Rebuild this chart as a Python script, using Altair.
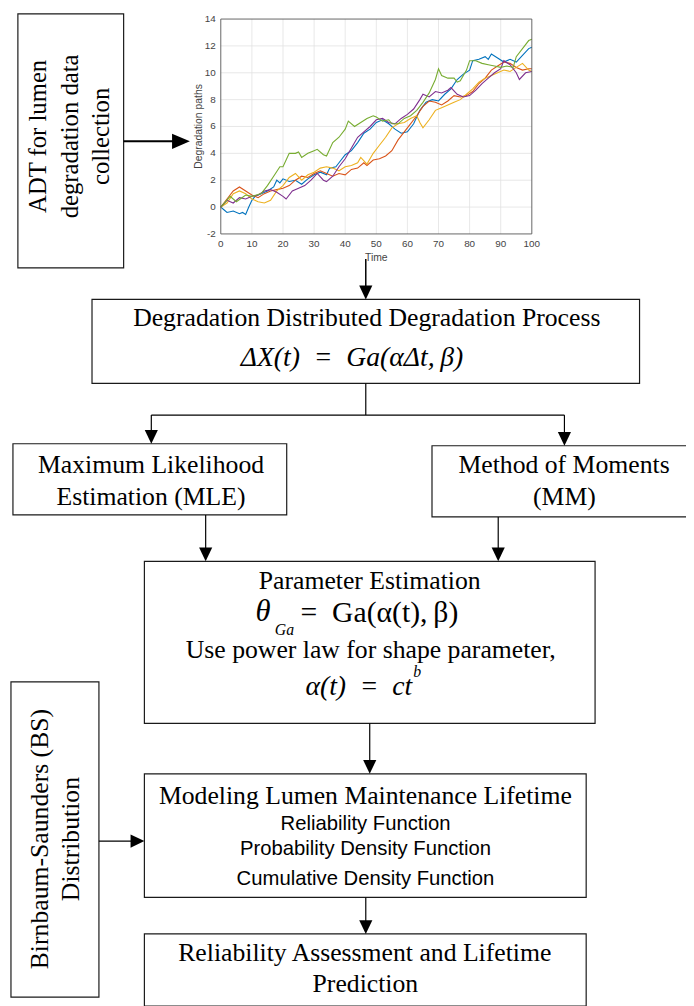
import altair as alt
import pandas as pd

# ---------------- embedded "Degradation paths" chart: data ----------------
series_names = ["path 1", "path 2", "path 3", "path 4", "path 5"]
series_colors = ["#0072BD", "#D95319", "#EDB120", "#7E2F8E", "#77AC30"]

blue_t = [0, 1, 2, 4, 6, 7, 8, 9, 10, 11, 13, 15, 17, 18, 19, 20, 22, 24, 26, 28, 30, 32, 34, 35, 37, 38, 40, 42, 44, 46,
          48, 50, 52, 54, 56, 58, 60, 62, 64, 66, 68, 70, 72, 74, 76, 78, 80, 81, 83, 85, 86, 87, 89, 91, 93, 95, 97, 99, 100]
blue_v = [0, -0.2, -0.4, -0.3, -0.5, -0.4, -0.55, 0, 0.5, 0.8, 1.0, 1.2, 1.5, 2.0, 1.8, 2.1, 1.9, 2.0, 1.7, 2.1, 2.4, 2.6,
          2.4, 2.9, 3.0, 3.3, 3.9, 4.2, 4.8, 5.5, 5.8, 6.3, 6.5, 6.2, 5.8, 5.5, 5.6, 6.2, 7.2, 7.8, 8.0, 7.9, 8.4, 8.8, 9.5,
          9.9, 10.2, 10.9, 11.0, 11.2, 11.0, 11.4, 11.1, 10.8, 11.0, 10.8, 11.3, 11.8, 11.9]

orange_t = [0, 2, 4, 6, 8, 10, 12, 14, 16, 18, 20, 22, 24, 26, 28, 30, 32, 34, 36, 38, 40, 42, 44, 46, 47, 49, 51, 53, 55,
            57, 59, 61, 63, 65, 67, 69, 71, 73, 75, 77, 79, 81, 83, 85, 87, 89, 91, 93, 95, 97, 99, 100]
orange_v = [0, 0.6, 1.2, 1.5, 1.2, 0.9, 0.7, 1.0, 1.2, 1.3, 1.4, 1.6, 2.0, 2.3, 2.2, 2.5, 2.7, 2.5, 2.3, 2.5, 2.4, 2.8, 2.9,
            3.3, 3.1, 3.5, 3.6, 3.8, 4.2, 5.0, 5.6, 6.2, 6.8, 7.5, 7.9, 7.8, 7.6, 7.9, 8.3, 8.2, 8.3, 8.6, 9.2, 9.6, 10.2,
            10.5, 10.8, 10.7, 10.4, 10.2, 10.3, 10.3]

yellow_t = [0, 2, 4, 6, 8, 10, 12, 14, 16, 18, 20, 22, 24, 26, 28, 30, 32, 34, 36, 38, 40, 42, 44, 45, 47, 49, 51, 53, 55,
            57, 59, 61, 63, 64, 65, 67, 69, 71, 73, 75, 77, 79, 81, 83, 85, 87, 89, 91, 93, 95, 97, 99, 100]
yellow_v = [0, 0.3, 1.0, 1.2, 1.0, 0.6, 0.4, 0.3, 0.5, 1.2, 1.6, 2.2, 2.5, 2.0, 2.4, 2.6, 2.9, 3.0, 2.9, 2.7, 3.0, 3.1, 3.3,
            3.7, 3.2, 4.0, 4.6, 5.2, 5.9, 6.2, 6.3, 6.6, 6.8, 6.3, 5.9, 6.5, 7.2, 7.4, 7.6, 7.8, 8.0, 8.4, 8.8, 9.3, 9.6,
            9.8, 10.0, 10.2, 10.1, 10.4, 10.7, 10.2, 10.1]

purple_t = [0, 2, 4, 6, 8, 10, 12, 14, 16, 18, 20, 21, 23, 25, 27, 29, 31, 33, 34, 36, 38, 40, 42, 44, 46, 48, 50, 52, 54,
            56, 58, 60, 62, 64, 65, 67, 69, 71, 73, 74, 76, 78, 80, 82, 84, 86, 88, 90, 91, 93, 95, 96, 98, 100]
purple_v = [0, 0.5, 0.3, 0.7, 0.6, 0.8, 0.9, 1.2, 1.3, 1.1, 0.8, 0.6, 1.2, 1.4, 1.6, 2.0, 2.5, 2.0, 1.9, 2.3, 3.0, 3.6, 4.4,
            5.2, 5.6, 6.0, 6.5, 6.6, 6.3, 6.2, 6.6, 6.9, 7.3, 8.0, 8.4, 8.2, 8.6, 8.5, 8.7, 8.9, 8.4, 8.2, 8.3, 8.7, 9.2,
            9.6, 10.0, 10.3, 10.9, 10.6, 10.0, 9.5, 10.0, 10.1]

green_t = [0, 3, 5, 8, 10, 13, 15, 17, 19, 20, 21, 22, 24, 25, 26, 28, 30, 31, 33, 34, 36, 38, 40, 41, 43, 45, 47, 49, 50,
           52, 54, 55, 57, 59, 61, 63, 65, 67, 69, 70, 71, 73, 75, 76, 77, 79, 80, 82, 84, 86, 88, 90, 92, 94, 95, 97, 99, 100]
green_v = [0, 0.8, 0.4, 0.9, 0.8, 1.0, 1.6, 2.3, 3.0, 3.0, 3.5, 4.0, 4.0, 4.1, 3.7, 4.0, 4.2, 4.3, 3.9, 3.8, 4.8, 5.2, 5.8,
           6.4, 6.0, 6.3, 6.6, 6.8, 6.7, 6.4, 6.5, 6.2, 6.2, 6.6, 6.8, 7.2, 7.8, 8.5, 9.5, 10.3, 9.8, 9.6, 9.6, 9.3, 9.4,
           10.2, 10.9, 10.9, 10.7, 10.6, 10.5, 10.4, 10.5, 10.4, 11.2, 11.8, 12.4, 12.5]

x_tick_values = [0, 10, 20, 30, 40, 50, 60, 70, 80, 90, 100]
x_tick_labels = ["0", "10", "20", "30", "40", "50", "60", "70", "80", "90", "100"]
y_tick_values = [-2, 0, 2, 4, 6, 8, 10, 12, 14]
y_tick_labels = ["-2", "0", "2", "4", "6", "8", "10", "12", "14"]
x_title = "Time"
y_title = "Degradation paths"

# ---------------- flowchart texts ----------------
heading_texts = ["ADT for lumen", "degradation data", "collection",
                 "Degradation Distributed Degradation Process",
                 "Maximum Likelihood", "Estimation (MLE)",
                 "Method of Moments", "(MM)",
                 "Parameter Estimation", "Use power law for shape parameter,",
                 "Modeling Lumen Maintenance Lifetime",
                 "Reliability Assessment and Lifetime", "Prediction",
                 "Birnbaum-Saunders (BS)", "Distribution"]
sans_texts = ["Reliability Function", "Probability Density Function", "Cumulative Density Function"]
formula_center_texts = ["ΔX(t)\u2002=\u2002Ga(αΔt,\u2009β)", "α(t)\u2002=\u2002ct"]
formula_theta_texts = ["θ"]
formula_upright_texts = ["=\u2002Ga(α(t),\u2009β)"]
formula_small_texts = ["Ga", "b"]

# ---------------- layout (reference pixel coordinates) ----------------
W, H = 686, 998
ORIGIN = 8

heading_x = [46.7, 79, 110, 371, 152.7, 152.7, 570.6, 571, 374, 375, 369.6, 369, 369.6, 48.3, 80]
heading_y = [132, 132, 132, 324, 473, 505, 473, 505, 590, 660, 807, 966.7, 998, 843, 843]
heading_angle = [270, 270, 270, 0, 0, 0, 0, 0, 0, 0, 0, 0, 0, 270, 270]
heading_size = [25, 25, 25, 26, 26, 26, 26, 26, 26, 26, 26, 26, 26, 26, 26]

sans_x = [369.7, 369.7, 369.7]
sans_y = [834, 859, 889]

fc_x = [356, 363]
fc_y = [364, 697]
fth_x = [266]
fth_y = [622]
fu_x = [304]
fu_y = [623]
fs_x = [278, 418]
fs_y = [637, 679]

box_x1 = [18, 93, 13, 437, 146, 146, 146, 11]
box_y1 = [8, 297, 443, 445, 562, 777, 939, 684]
box_x2 = [125, 647, 290, 700, 602, 593, 593, 100]
box_y2 = [265, 382, 515, 517, 726, 902, 1012, 1003]

seg_x1 = [125, 370, 370, 153, 153, 571, 208, 504, 374, 100, 370]
seg_y1 = [137, 256, 382, 414, 414, 414, 515, 517, 726, 845, 902]
seg_x2 = [184, 370, 370, 571, 153, 571, 208, 504, 374, 140, 370]
seg_y2 = [137, 290, 414, 414, 436, 438, 555, 555, 770, 845, 932]
seg_w = [2, 1.5, 1.2, 1.2, 1.2, 1.2, 1.2, 1.2, 1.2, 1.2, 1.2]

down_tip_x = [370, 153, 571, 208, 504, 374, 370]
down_tip_y = [297, 443, 445, 562, 562, 777, 939]
big_right_tip_x = [192]
big_right_tip_y = [137]
right_tip_x = [146]
right_tip_y = [845]

PLOT_L, PLOT_R, PLOT_T, PLOT_B = 223.3, 538.0, 13.3, 230.7


def px():
    return alt.Scale(domain=[ORIGIN, ORIGIN + W], range=[0, W], nice=False, zero=False)


def py():
    return alt.Scale(domain=[ORIGIN, ORIGIN + H], range=[0, H], nice=False, zero=False)


def tx():
    return alt.Scale(domain=[0, 100], range=[PLOT_L - ORIGIN, PLOT_R - ORIGIN], nice=False, zero=False)


def ty():
    return alt.Scale(domain=[-2, 14], range=[PLOT_B - ORIGIN, PLOT_T - ORIGIN], nice=False, zero=False)


def PX(f):
    return alt.X(f, type="quantitative", scale=px(), axis=None)


def PY(f):
    return alt.Y(f, type="quantitative", scale=py(), axis=None)


def TX(f):
    return alt.X(f, type="quantitative", scale=tx(), axis=None)


def TY(f):
    return alt.Y(f, type="quantitative", scale=ty(), axis=None)


# ---------------- embedded chart layers ----------------
rows = []
for name, ts, vs in zip(series_names,
                        [blue_t, orange_t, yellow_t, purple_t, green_t],
                        [blue_v, orange_v, yellow_v, purple_v, green_v]):
    for t, v in zip(ts, vs):
        rows.append({"series": name, "t": t, "v": v})
paths = pd.DataFrame(rows)

grid_v = pd.DataFrame({"t": x_tick_values[1:-1], "lo": -2, "hi": 14})
grid_h = pd.DataFrame({"v": y_tick_values[1:-1], "lo": 0, "hi": 100})
frame = pd.DataFrame({"t0": [0], "t1": [100], "v0": [-2], "v1": [14]})
xlab = pd.DataFrame({"t": x_tick_values, "lab": x_tick_labels, "v": -2})
ylab = pd.DataFrame({"v": y_tick_values, "lab": y_tick_labels, "t": 0})
xt = pd.DataFrame({"t": [50], "v": [-2], "lab": [x_title]})
yt = pd.DataFrame({"t": [0], "v": [6], "lab": [y_title]})

grid_v_layer = alt.Chart(grid_v).mark_rule(color="#e2e2e2", strokeWidth=0.8).encode(
    x=TX("t"), y=TY("lo"), y2="hi:Q")
grid_h_layer = alt.Chart(grid_h).mark_rule(color="#e2e2e2", strokeWidth=0.8).encode(
    y=TY("v"), x=TX("lo"), x2="hi:Q")
frame_layer = alt.Chart(frame).mark_rect(fill="transparent", stroke="#555555", strokeWidth=0.9).encode(
    x=TX("t0"), x2="t1:Q", y=TY("v0"), y2="v1:Q")
lines_layer = alt.Chart(paths).mark_line(strokeWidth=1.1).encode(
    x=TX("t"), y=TY("v"),
    color=alt.Color("series:N", scale=alt.Scale(domain=series_names, range=series_colors), legend=None),
    order="t:Q")
xlab_layer = alt.Chart(xlab).mark_text(font="Liberation Sans", fontSize=10, color="#444444",
                                       baseline="middle", dy=10).encode(
    x=TX("t"), y=TY("v"), text="lab:N")
ylab_layer = alt.Chart(ylab).mark_text(font="Liberation Sans", fontSize=10, color="#444444",
                                       align="right", baseline="middle", dx=-5).encode(
    x=TX("t"), y=TY("v"), text="lab:N")
xt_layer = alt.Chart(xt).mark_text(font="Liberation Sans", fontSize=10.5, color="#444444",
                                   baseline="middle", dy=24).encode(
    x=TX("t"), y=TY("v"), text="lab:N")
yt_layer = alt.Chart(yt).mark_text(font="Liberation Sans", fontSize=10.5, color="#444444",
                                   baseline="middle", angle=270, dy=-21.6).encode(
    x=TX("t"), y=TY("v"), text="lab:N")

# ---------------- flowchart layers ----------------
boxes = pd.DataFrame({"x1": box_x1, "y1": box_y1, "x2": box_x2, "y2": box_y2})
segs = pd.DataFrame({"x1": seg_x1, "y1": seg_y1, "x2": seg_x2, "y2": seg_y2, "w": seg_w})
downs = pd.DataFrame({"x": down_tip_x, "y": down_tip_y})
bigr = pd.DataFrame({"x": big_right_tip_x, "y": big_right_tip_y})
rights = pd.DataFrame({"x": right_tip_x, "y": right_tip_y})
heads = pd.DataFrame({"x": heading_x, "y": heading_y, "text": heading_texts,
                      "angle": heading_angle, "size": heading_size})
sans = pd.DataFrame({"x": sans_x, "y": sans_y, "text": sans_texts})
fcen = pd.DataFrame({"x": fc_x, "y": fc_y, "text": formula_center_texts})
fth = pd.DataFrame({"x": fth_x, "y": fth_y, "text": formula_theta_texts})
fup = pd.DataFrame({"x": fu_x, "y": fu_y, "text": formula_upright_texts})
fsm = pd.DataFrame({"x": fs_x, "y": fs_y, "text": formula_small_texts})

box_layer = alt.Chart(boxes).mark_rect(fill="transparent", stroke="#1a1a1a", strokeWidth=1.2).encode(
    x=PX("x1"), x2="x2:Q", y=PY("y1"), y2="y2:Q")
seg_layer = alt.Chart(segs).mark_rule(color="black").encode(
    x=PX("x1"), y=PY("y1"), x2="x2:Q", y2="y2:Q",
    strokeWidth=alt.StrokeWidth("w:Q", scale=None))
down_layer = alt.Chart(downs).mark_point(shape="M-0.95,-1L0,1L0.95,-1Z", size=196, filled=True,
                                         color="black", opacity=1, yOffset=-7).encode(
    x=PX("x"), y=PY("y"))
bigr_layer = alt.Chart(bigr).mark_point(shape="M-1,-0.85L1,0L-1,0.85Z", size=324, filled=True,
                                        color="black", opacity=1, xOffset=-9).encode(
    x=PX("x"), y=PY("y"))
right_layer = alt.Chart(rights).mark_point(shape="M-1,-0.95L1,0L-1,0.95Z", size=196, filled=True,
                                           color="black", opacity=1, xOffset=-7).encode(
    x=PX("x"), y=PY("y"))
head_layer = alt.Chart(heads).mark_text(font="Liberation Serif", color="black", align="center",
                                        baseline="alphabetic").encode(
    x=PX("x"), y=PY("y"), text="text:N",
    angle=alt.Angle("angle:Q", scale=None), size=alt.Size("size:Q", scale=None))
sans_layer = alt.Chart(sans).mark_text(font="Liberation Sans", fontSize=20.5, color="black",
                                       align="center", baseline="alphabetic").encode(
    x=PX("x"), y=PY("y"), text="text:N")
fcen_layer = alt.Chart(fcen).mark_text(font="Liberation Serif", fontStyle="italic", fontSize=28,
                                       color="black", align="center", baseline="alphabetic").encode(
    x=PX("x"), y=PY("y"), text="text:N")
fth_layer = alt.Chart(fth).mark_text(font="Liberation Serif", fontStyle="italic", fontSize=31,
                                     color="black", align="center", baseline="alphabetic").encode(
    x=PX("x"), y=PY("y"), text="text:N")
fup_layer = alt.Chart(fup).mark_text(font="Liberation Serif", fontSize=30, color="black",
                                     align="left", baseline="alphabetic").encode(
    x=PX("x"), y=PY("y"), text="text:N")
fsm_layer = alt.Chart(fsm).mark_text(font="Liberation Serif", fontStyle="italic", fontSize=16,
                                     color="black", align="left", baseline="alphabetic").encode(
    x=PX("x"), y=PY("y"), text="text:N")

chart = alt.layer(
    grid_v_layer, grid_h_layer, lines_layer, frame_layer, xlab_layer, ylab_layer, xt_layer, yt_layer,
    box_layer, seg_layer, down_layer, bigr_layer, right_layer,
    head_layer, sans_layer, fcen_layer, fth_layer, fup_layer, fsm_layer,
).resolve_scale(
    x="independent", y="independent"
).properties(
    width=W, height=H, padding=0, autosize="none", background="white"
).configure_view(stroke=None)

chart.save("out.html", embed_options={"renderer": "svg", "actions": False})
